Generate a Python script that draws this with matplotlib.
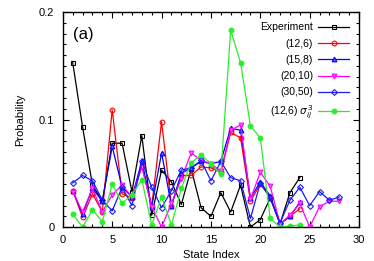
import numpy as np
import matplotlib
matplotlib.use('Agg')
import matplotlib.pyplot as plt
from matplotlib.ticker import MultipleLocator

# data
exp_x = np.arange(1, 25)
experiment = [0.153, 0.093, 0.039, 0.024, 0.078, 0.078, 0.033, 0.085, 0.011, 0.053,
              0.042, 0.021, 0.054, 0.018, 0.010, 0.032, 0.014, 0.039, 0.000, 0.007,
              0.027, 0.003, 0.032, 0.046]

r126_x = np.arange(1, 25)
r126 = [0.034, 0.009, 0.031, 0.014, 0.109, 0.031, 0.027, 0.057, 0.019, 0.098,
        0.020, 0.048, 0.048, 0.056, 0.055, 0.051, 0.088, 0.083, 0.024, 0.040,
        0.028, 0.003, 0.010, 0.017]

r158_x = np.arange(1, 25)
r158 = [0.034, 0.012, 0.036, 0.024, 0.075, 0.037, 0.028, 0.061, 0.019, 0.069,
        0.020, 0.050, 0.055, 0.061, 0.059, 0.061, 0.092, 0.090, 0.027, 0.042,
        0.029, 0.003, 0.010, 0.023]

r2010_x = np.arange(1, 29)
r2010 = [0.033, 0.014, 0.036, 0.014, 0.030, 0.039, 0.028, 0.056, 0.019, 0.000,
         0.022, 0.045, 0.069, 0.062, 0.059, 0.052, 0.090, 0.095, 0.026, 0.051,
         0.038, 0.003, 0.011, 0.022, 0.000, 0.019, 0.024, 0.024]

r3050_x = np.arange(1, 29)
r3050 = [0.041, 0.048, 0.043, 0.025, 0.015, 0.037, 0.020, 0.061, 0.037, 0.018,
         0.034, 0.053, 0.055, 0.062, 0.043, 0.061, 0.046, 0.043, 0.008, 0.041,
         0.027, 0.004, 0.025, 0.037, 0.020, 0.033, 0.025, 0.028]

sig_x = np.arange(1, 25)
sig = [0.012, 0.000, 0.016, 0.005, 0.040, 0.022, 0.030, 0.044, 0.002, 0.028,
       0.002, 0.036, 0.060, 0.067, 0.059, 0.049, 0.183, 0.153, 0.094, 0.083,
       0.008, 0.000, 0.001, 0.002]

plt.rcParams['font.family'] = ['Liberation Sans', 'DejaVu Sans']
plt.rcParams['font.size'] = 8

fig = plt.figure(figsize=(3.74, 2.61), dpi=100)
ax = fig.add_axes([0.168, 0.130, 0.792, 0.824])

ms = 3.4
ax.plot(exp_x, experiment, '-s', color='black', lw=0.9, ms=ms, mfc='none', mew=0.8, label='Experiment')
ax.plot(r126_x, r126, '-o', color='#ff0000', lw=0.9, ms=ms, mfc='none', mew=0.8, label='(12,6)')
ax.plot(r158_x, r158, '-^', color='#0000ff', lw=0.9, ms=ms, mfc='#6060ff', mew=0.8, label='(15,8)')
ax.plot(r2010_x, r2010, '-v', color='#ff00ff', lw=0.9, ms=ms, mfc='#ff60ff', mew=0.8, label='(20,10)')
ax.plot(r3050_x, r3050, '-D', color='#1a1aff', lw=0.9, ms=3.0, mfc='none', mew=0.8, label='(30,50)')
ax.plot(sig_x, sig, '-o', color='#2aee2a', lw=0.9, ms=ms, mfc='#2aee2a', mew=0.8, label=r'(12,6) $\sigma_{ij}^3$')

ax.set_xlim(0, 30)
ax.set_ylim(0, 0.2)
ax.set_xticks([0, 5, 10, 15, 20, 25, 30])
ax.set_yticks([0, 0.1, 0.2])
ax.set_yticklabels(['0', '0.1', '0.2'])
ax.xaxis.set_minor_locator(MultipleLocator(1))
ax.yaxis.set_minor_locator(MultipleLocator(0.01))
ax.tick_params(which='both', direction='in', top=True, right=True, labelsize=8, width=0.8)
ax.tick_params(which='major', length=4, pad=6)
ax.tick_params(which='minor', length=2.5)
for s in ax.spines.values():
    s.set_linewidth(1.0)

ax.set_xlabel('State Index', fontsize=8, labelpad=3)
ax.set_ylabel('Probability', fontsize=8, labelpad=10)

ax.text(0.035, 0.93, '(a)', transform=ax.transAxes, fontsize=12, va='top', ha='left')

ax.legend(loc='upper right', frameon=False, markerfirst=False, fontsize=7.5,
          handlelength=2.9, labelspacing=0.6, borderaxespad=0.6, handletextpad=0.5)

fig.savefig('out.png', dpi=100)
